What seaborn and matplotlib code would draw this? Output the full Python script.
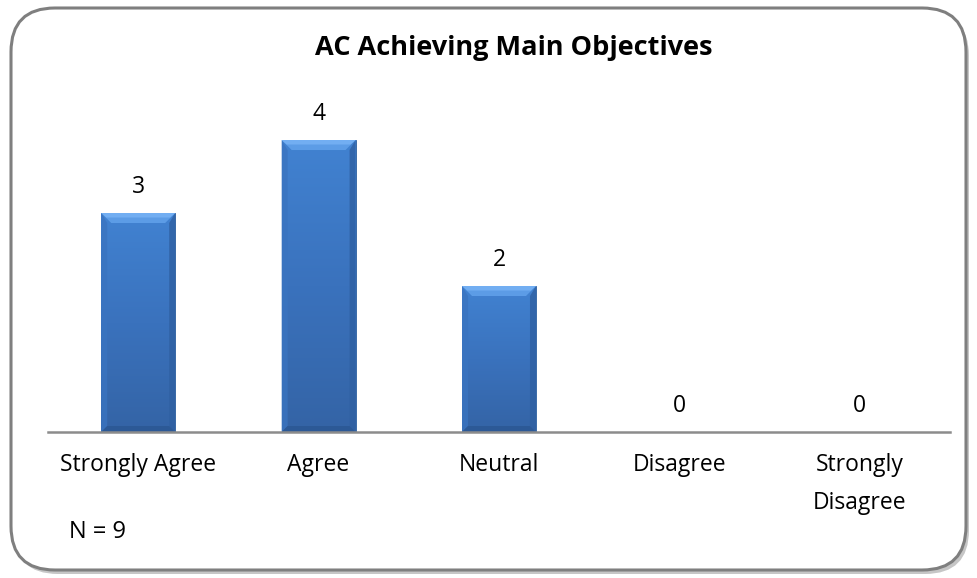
import matplotlib
matplotlib.use("Agg")
import matplotlib.pyplot as plt
import seaborn as sns
import numpy as np
import pandas as pd
from matplotlib.patches import FancyBboxPatch
from matplotlib.colors import LinearSegmentedColormap

categories = ["Strongly Agree", "Agree", "Neutral", "Disagree", "Strongly\nDisagree"]
counts = [3, 4, 2, 0, 0]
title = "AC Achieving Main Objectives"
note = "N = 9"

sns.set_theme(style="white")
plt.rcParams['font.family'] = ['Open Sans', 'DejaVu Sans']

W, H = 977, 578
fig = plt.figure(figsize=(W / 100, H / 100), dpi=100)
fig.patch.set_facecolor("white")

# rounded border with shadow
shadow = FancyBboxPatch((14 / W, 1 - 574 / H), (955 / W), (562 / H),
                        boxstyle="round,pad=0,rounding_size=0.045",
                        transform=fig.transFigure, facecolor="#a0a0a0",
                        edgecolor="none", alpha=0.6, zorder=0,
                        mutation_aspect=W / H)
fig.patches.append(shadow)
border = FancyBboxPatch((11 / W, 1 - 570 / H), (955 / W), (562 / H),
                        boxstyle="round,pad=0,rounding_size=0.045",
                        transform=fig.transFigure, facecolor="white",
                        edgecolor="#7f7f7f", linewidth=2.2, zorder=0.5,
                        mutation_aspect=W / H)
fig.patches.append(border)

ax = fig.add_axes([48 / W, 1 - 432 / H, 902 / W, 332 / H])
ax.set_zorder(2)
ax.set_facecolor("none")

df = pd.DataFrame({"cat": categories, "count": counts})
sns.barplot(data=df, x="cat", y="count", color="#3b78c6", width=0.41,
            saturation=1, ax=ax, edgecolor="#2e5f9e", linewidth=0.6, zorder=2)

ax.set_xlim(-0.5, len(categories) - 0.5)
ax.set_ylim(0, 332 / 73)

# bevelled look on bars (face gradient + bevel edges)
face = LinearSegmentedColormap.from_list("face", ["#3464a6", "#3a72bd", "#4182d1"])
grad = np.linspace(0, 1, 64).reshape(-1, 1)
bx = 10 / 180  # bevel width in data units (x)
by = 10 / 73   # bevel height in data units (y)
for p in list(ax.patches):
    x0, y0 = p.get_x(), p.get_y()
    w, h = p.get_width(), p.get_height()
    if h <= 0:
        continue
    x1, y1 = x0 + w, y0 + h
    im = ax.imshow(grad, extent=[x0, x1, y0, y1], aspect="auto", origin="lower",
                   cmap=face, zorder=2.5, interpolation="bicubic")
    im.set_clip_path(p)
    # top bevel (light)
    ax.fill([x0, x1, x1 - bx, x0 + bx], [y1, y1, y1 - by, y1 - by],
            color="#5c9ce6", zorder=3, linewidth=0)
    ax.fill([x0, x1, x1 - bx * 0.5, x0 + bx * 0.5], [y1, y1, y1 - by * 0.45, y1 - by * 0.45],
            color="#72aef2", zorder=3.1, linewidth=0)
    # side bevels
    ax.fill([x0, x0 + bx * 0.6, x0 + bx * 0.6, x0], [y0, y0 + by * 0.6, y1 - by, y1],
            color="#3a74c0", alpha=0.8, zorder=3, linewidth=0)
    ax.fill([x1, x1 - bx * 0.6, x1 - bx * 0.6, x1], [y0, y0 + by * 0.6, y1 - by, y1],
            color="#2f60a2", alpha=0.8, zorder=3, linewidth=0)
    # bottom bevel (dark)
    ax.fill([x0, x1, x1 - bx * 0.6, x0 + bx * 0.6], [y0, y0, y0 + by * 0.6, y0 + by * 0.6],
            color="#2c5996", zorder=3, linewidth=0)

for c in ax.containers:
    ax.bar_label(c, labels=[str(v) for v in counts], padding=10,
                 fontsize=16.5, color="black")

ax.set_xlabel("")
ax.set_ylabel("")
ax.set_yticks([])
ax.tick_params(axis="x", length=0, pad=15, labelsize=16.5, colors="black")
for s in ["top", "right", "left"]:
    ax.spines[s].set_visible(False)
ax.spines["bottom"].set_color("#8c8c8c")
ax.spines["bottom"].set_linewidth(1.8)
ax.spines["bottom"].set_zorder(4)
for lab in ax.get_xticklabels():
    lab.set_verticalalignment("top")
    lab.set_linespacing(1.8)

fig.text(514 / W, 1 - 48 / H, title, ha="center", va="center",
         fontsize=19.5, fontweight="bold", color="black")
fig.text(69 / W, 1 - 532 / H, note, ha="left", va="center",
         fontsize=17, color="black")

fig.savefig("out.png", dpi=100)
